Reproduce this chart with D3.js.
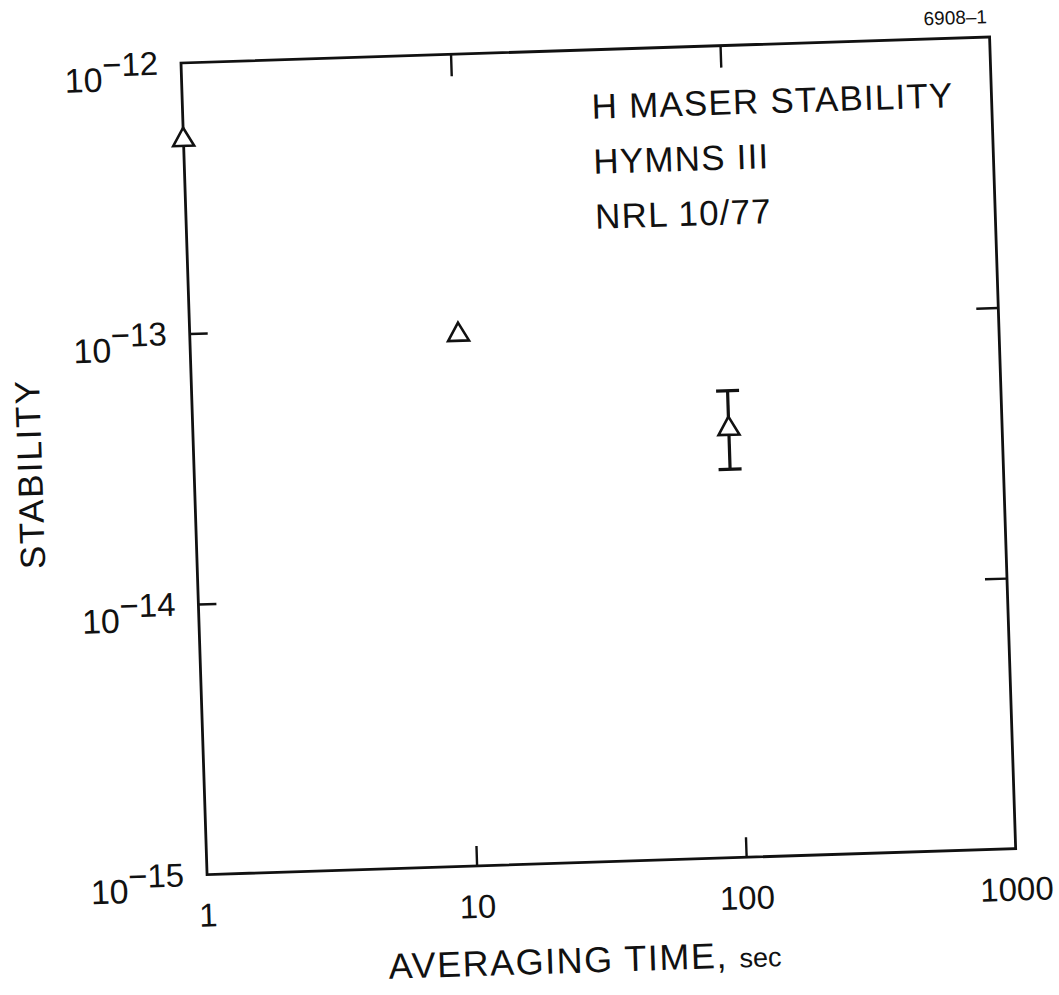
<!DOCTYPE html>
<html>
<head>
<meta charset="utf-8">
<script src="https://cdn.jsdelivr.net/npm/d3@7"></script>
<style>
  html, body { margin: 0; padding: 0; background: #fff; }
  svg { display: block; }
  text { font-family: "Liberation Sans", Arial, Helvetica, sans-serif; fill: #111; }
</style>
</head>
<body>
<svg id="chart" width="1059" height="995"></svg>
<script>
// ---- data ----
const tau       = [1, 9.9, 97];                 // averaging time, s
const sigma     = [5.2e-13, 9.2e-14, 3.84e-14]; // stability
const errLow    = [null, null, 2.72e-14];
const errHigh   = [null, null, 5.31e-14];

const xTickValues = [10, 100];
const xLabelValues = [1, 10, 100, 1000];
const xLabelText   = ["1", "10", "100", "1000"];
const yTickValues  = [1e-13, 1e-14];
const yLabelValues = [1e-12, 1e-13, 1e-14, 1e-15];
const yLabelExp    = ["12", "13", "14", "15"];

const titleLines = ["H MASER STABILITY", "HYMNS III", "NRL 10/77"];
const figId = "6908\u20131";

// ---- layout ----
const W = 809, H = 812;
const svg = d3.select("#chart");
svg.append("rect").attr("width", 1059).attr("height", 995).attr("fill", "#fff");

const g = svg.append("g").attr("transform", "translate(181,63) rotate(-1.84)");

const x = d3.scaleLog().domain([1, 1000]).range([0, W]);
const y = d3.scaleLog().domain([1e-15, 1e-12]).range([H, 0]);

// ticks (inward)
function styleAxis(sel) {
  sel.select(".domain").remove();
  sel.selectAll(".tick line").attr("stroke", "#111").attr("stroke-width", 2.4);
}
g.append("g").attr("transform", `translate(0,${H})`)
  .call(d3.axisBottom(x).tickValues(xTickValues).tickSize(-20).tickFormat(""))
  .call(styleAxis);
g.append("g")
  .call(d3.axisTop(x).tickValues(xTickValues).tickSize(-22).tickFormat(""))
  .call(styleAxis);
g.append("g")
  .call(d3.axisLeft(y).tickValues(yTickValues).tickSize(-18).tickFormat(""))
  .call(styleAxis);
g.append("g").attr("transform", `translate(${W},0)`)
  .call(d3.axisRight(y).tickValues(yTickValues).tickSize(-22).tickFormat(""))
  .call(styleAxis);

// frame
g.append("rect").attr("x", 0).attr("y", 0).attr("width", W).attr("height", H)
  .attr("fill", "none").attr("stroke", "#111").attr("stroke-width", 2.8);

// x tick labels
g.selectAll(".xlab").data(xLabelValues).enter().append("text")
  .attr("class", "xlab")
  .attr("x", d => x(d)).attr("y", H + 52)
  .attr("text-anchor", "middle")
  .attr("font-size", 33)
  .text((d, i) => xLabelText[i]);

// y tick labels: 10^-n
yLabelValues.forEach((v, i) => {
  const t = g.append("text")
    .attr("x", -23).attr("y", y(v) + 26)
    .attr("text-anchor", "end")
    .attr("font-size", 34);
  t.append("tspan").text("10");
  t.append("tspan").attr("dy", -15).attr("font-size", 33).text("\u2212" + yLabelExp[i]);
});

// axis titles
const xt = g.append("text")
  .attr("x", 375).attr("y", H + 110)
  .attr("text-anchor", "middle")
  .attr("font-size", 36)
  .attr("letter-spacing", 1.5);
xt.append("tspan").text("AVERAGING TIME, ");
xt.append("tspan").attr("font-size", 27).attr("letter-spacing", 0).text("sec");

g.append("text")
  .attr("transform", `translate(-152,${H / 2}) rotate(-90)`)
  .attr("text-anchor", "middle")
  .attr("font-size", 35)
  .attr("letter-spacing", 2)
  .text("STABILITY");

// in-plot title block
g.selectAll(".title").data(titleLines).enter().append("text")
  .attr("class", "title")
  .attr("x", 409)
  .attr("y", (d, i) => 69 + i * 55)
  .attr("font-size", 35)
  .attr("letter-spacing", 1.2)
  .text(d => d);

// figure id
g.append("text")
  .attr("x", 807).attr("y", -14)
  .attr("text-anchor", "end")
  .attr("font-size", 19)
  .text(figId);

// error bars
const capW = 11.5;
const eb = g.selectAll(".eb").data(tau.map((t, i) => ({t, lo: errLow[i], hi: errHigh[i]})).filter(d => d.lo !== null))
  .enter().append("g").attr("class", "eb")
  .attr("stroke", "#111").attr("stroke-width", 3.2);
eb.append("line").attr("x1", d => x(d.t)).attr("x2", d => x(d.t)).attr("y1", d => y(d.lo)).attr("y2", d => y(d.hi));
eb.append("line").attr("x1", d => x(d.t) - capW).attr("x2", d => x(d.t) + capW).attr("y1", d => y(d.lo)).attr("y2", d => y(d.lo));
eb.append("line").attr("x1", d => x(d.t) - capW).attr("x2", d => x(d.t) + capW).attr("y1", d => y(d.hi)).attr("y2", d => y(d.hi));

// triangle markers
const tri = d3.symbol().type(d3.symbolTriangle).size(190);
g.selectAll(".pt").data(tau.map((t, i) => ({t, s: sigma[i]}))).enter().append("path")
  .attr("class", "pt")
  .attr("d", tri)
  .attr("transform", d => `translate(${x(d.t)},${y(d.s)})`)
  .attr("fill", "#fff").attr("stroke", "#111").attr("stroke-width", 2.6);
</script>
</body>
</html>
